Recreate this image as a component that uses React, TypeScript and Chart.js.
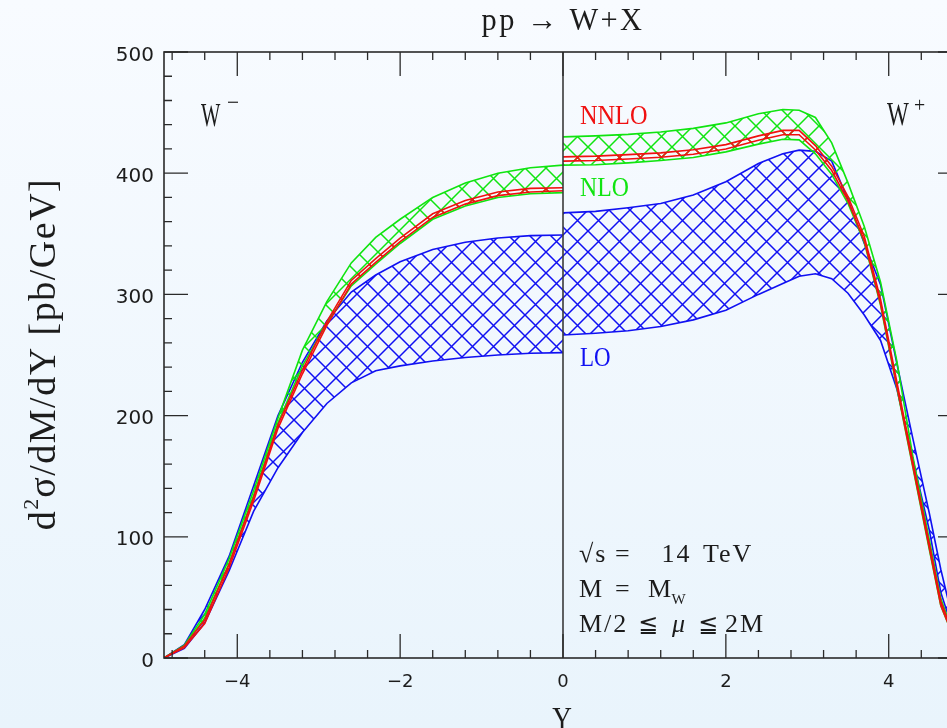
import React, { useEffect, useRef } from "react";
import { Chart, registerables } from "chart.js";

Chart.register(...registerables);

// ---- W- side (Y < 0) ----
const W_MINUS_Y = [-4.9, -4.65, -4.4, -4.1, -3.8, -3.5, -3.2, -2.9, -2.6, -2.3, -2.0, -1.6, -1.2, -0.8, -0.4, 0];
const LO_MINUS_LOW = [0, 8, 29, 72, 121, 157, 186, 210, 227, 237, 241, 245, 248, 250, 251.5, 252];
const LO_MINUS_HIGH = [0, 11, 40, 84, 142, 200, 244, 278, 302, 316, 327, 337, 343, 346.5, 348.5, 349];
const NLO_MINUS_LOW = [0, 9.8, 33, 78, 134, 194, 241, 276, 307, 325, 342, 362, 373, 380, 383, 384];
const NLO_MINUS_HIGH = [0, 10.5, 36, 82, 138, 198, 254, 294, 326, 347, 362, 380, 392, 400, 404.5, 406.7];
const NNLO_MINUS_LOW = [0, 8.5, 28.5, 74.5, 129.5, 189.5, 234.5, 274.5, 308.5, 326.5, 343.5, 363.5, 374.5, 381.5, 384.5, 385.5];
const NNLO_MINUS_HIGH = [0, 10, 31.5, 77.5, 132.5, 192.5, 237.5, 277.5, 311.5, 329.5, 346.5, 366.5, 377.5, 384.5, 387.5, 388];

// ---- W+ side (Y > 0) ----
const W_PLUS_Y = [0, 0.4, 0.8, 1.2, 1.6, 2.0, 2.4, 2.7, 2.9, 3.1, 3.3, 3.5, 3.7, 3.9, 4.1, 4.3, 4.5, 4.64, 4.9];
const LO_PLUS_LOW = [266.5, 268, 270, 273.5, 279, 287, 300, 309, 315, 317, 313, 301, 283, 262, 222, 163, 105, 54, 0];
const LO_PLUS_HIGH = [367.3, 368.5, 371.5, 375, 382, 393, 408, 416, 419, 418, 410, 378, 342, 308, 243, 180, 119, 73, 0];
const NLO_PLUS_LOW = [406.7, 407, 408.5, 410.5, 413, 417.6, 424, 428, 427.5, 416, 399, 375, 343, 291, 223, 156, 89, 43, 0];
const NLO_PLUS_HIGH = [430, 430.8, 432, 434, 437, 441.5, 449, 452.5, 452, 446, 425, 392, 356, 310, 245, 165, 97, 49, 0];
const NNLO_PLUS_LOW = [410, 410.5, 411.7, 413.2, 415.7, 420, 427.2, 431.7, 431.7, 419.2, 402.2, 377.2, 344.2, 292.2, 224.2, 157.2, 90.2, 43.2, 0];
const NNLO_PLUS_HIGH = [413.5, 414.1, 415.3, 416.8, 419.3, 423.6, 430.8, 435.3, 435.3, 422.8, 405.8, 380.8, 347.8, 295.8, 227.8, 160.8, 93.8, 46.8, 0];

// ---- axes ----
const X_MIN = -4.9;
const X_MAX = 4.9;
const Y_MIN = 0;
const Y_MAX = 500;
const X_MAJOR_TICKS = [-4, -2, 0, 2, 4];
const X_MINOR_STEP = 0.4;
const Y_MAJOR_TICKS = [0, 100, 200, 300, 400, 500];
const Y_MINOR_STEP = 20;

const TITLE = "pp \u2192 W+X";
const X_TITLE = "Y";
const BAND_LABELS = ["NNLO", "NLO", "LO"];

const BLUE = "#1010f2";
const GREEN = "#10e410";
const RED = "#f01010";
const INK = "#1c1c1c";
const SERIF = "'Liberation Serif', 'DejaVu Serif', serif";
const SANS = "'DejaVu Sans', sans-serif";

function makeHatch(color: string, size = 21, lw = 1.5): CanvasPattern | string {
  const c = document.createElement("canvas");
  c.width = size;
  c.height = size;
  const g = c.getContext("2d");
  if (!g) return color;
  g.strokeStyle = color;
  g.lineWidth = lw;
  g.beginPath();
  for (const k of [-size, 0, size]) {
    g.moveTo(-2, -2 + k);
    g.lineTo(size + 2, size + 2 + k);
  }
  for (const k of [-size, 0, size]) {
    g.moveTo(size + 2, -2 + k);
    g.lineTo(-2, size + 2 + k);
  }
  g.stroke();
  const p = g.createPattern(c, "repeat");
  return p || color;
}

type Run = { t: string; size: number; dy?: number; style?: string; ls?: number; family?: string };

function drawRuns(
  ctx: CanvasRenderingContext2D,
  runs: Run[],
  x: number,
  y: number,
  opts: { color: string; align?: "left" | "center" | "right"; hs?: number; rotate?: number; family?: string }
) {
  const fam = opts.family || SERIF;
  ctx.save();
  ctx.translate(x, y);
  if (opts.rotate) ctx.rotate(opts.rotate);
  ctx.scale(opts.hs ?? 1, 1);
  ctx.fillStyle = opts.color;
  ctx.textAlign = "left";
  ctx.textBaseline = "alphabetic";
  const widths: number[] = [];
  let total = 0;
  for (const r of runs) {
    ctx.font = `${r.style || ""} ${r.size}px ${r.family || fam}`;
    (ctx as any).letterSpacing = `${r.ls || 0}px`;
    const w = ctx.measureText(r.t).width;
    widths.push(w);
    total += w;
  }
  let cx = opts.align === "center" ? -total / 2 : opts.align === "right" ? -total : 0;
  runs.forEach((r, i) => {
    ctx.font = `${r.style || ""} ${r.size}px ${r.family || fam}`;
    (ctx as any).letterSpacing = `${r.ls || 0}px`;
    ctx.fillText(r.t, cx, r.dy || 0);
    cx += widths[i];
  });
  ctx.restore();
}

const fmtTick = (v: number) => (v < 0 ? "\u2212" + Math.abs(v) : String(v));

const framePlugin = {
  id: "framePlugin",
  afterDatasetsDraw(chart: any) {
    const { ctx, chartArea: a, scales } = chart;
    const xs = scales.x;
    const ys = scales.y;
    ctx.save();
    // zero line
    const x0 = xs.getPixelForValue(0);
    ctx.strokeStyle = "#3a3a3a";
    ctx.lineWidth = 1.6;
    ctx.beginPath();
    ctx.moveTo(x0, a.top);
    ctx.lineTo(x0, a.bottom);
    ctx.stroke();

    // frame
    ctx.strokeStyle = "#2a2a2a";
    ctx.lineWidth = 1.6;
    ctx.strokeRect(a.left, a.top, a.right - a.left, a.bottom - a.top);

    // ticks
    ctx.lineWidth = 1.3;
    ctx.beginPath();
    const major = 24;
    const minor = 8;
    for (let v = Y_MIN; v <= Y_MAX + 1e-6; v += Y_MINOR_STEP) {
      const py = ys.getPixelForValue(v);
      const len = Y_MAJOR_TICKS.includes(Math.round(v)) ? major : minor;
      ctx.moveTo(a.left, py);
      ctx.lineTo(a.left + len, py);
      ctx.moveTo(a.right, py);
      ctx.lineTo(a.right - len, py);
    }
    const nMin = Math.ceil(X_MIN / X_MINOR_STEP - 1e-6);
    const nMax = Math.floor(X_MAX / X_MINOR_STEP + 1e-6);
    for (let n = nMin; n <= nMax; n++) {
      const v = Math.round(n * X_MINOR_STEP * 10) / 10;
      const px = xs.getPixelForValue(v);
      const len = X_MAJOR_TICKS.includes(v) ? major : minor;
      ctx.moveTo(px, a.bottom);
      ctx.lineTo(px, a.bottom - len);
      ctx.moveTo(px, a.top);
      ctx.lineTo(px, a.top + len);
    }
    ctx.stroke();

    // tick labels
    ctx.fillStyle = INK;
    ctx.font = `20px ${SANS}`;
    ctx.textAlign = "right";
    ctx.textBaseline = "alphabetic";
    for (const v of Y_MAJOR_TICKS) {
      ctx.fillText(String(v), a.left - 10, ys.getPixelForValue(v) + 8.5);
    }
    ctx.font = `18px ${SANS}`;
    ctx.textAlign = "center";
    for (const v of X_MAJOR_TICKS) {
      ctx.fillText(fmtTick(v), xs.getPixelForValue(v), a.bottom + 29);
    }
    ctx.restore();

    // texts
    // title
    drawRuns(ctx, [{ t: TITLE, size: 32, ls: 2.5 }], xs.getPixelForValue(0), 30, { color: INK, align: "center", hs: 0.95 });
    // x title
    drawRuns(ctx, [{ t: X_TITLE, size: 34 }], xs.getPixelForValue(0) - 1, 730, { color: INK, align: "center", hs: 0.8 });
    // y title
    drawRuns(
      ctx,
      [
        { t: "d", size: 38, ls: 1.5 },
        { t: "2", size: 22, dy: -17, ls: 1 },
        { t: "\u03c3/dM/dY [pb/GeV]", size: 38, ls: 1.5 },
      ],
      55,
      354,
      { color: INK, align: "center", rotate: -Math.PI / 2 }
    );
    // W- / W+
    drawRuns(ctx, [{ t: "W", size: 33 }], 201, 126, { color: INK, hs: 0.62 });
    drawRuns(ctx, [{ t: "\u2212", size: 24 }], 227, 110, { color: INK, hs: 0.9 });
    drawRuns(ctx, [{ t: "W", size: 33 }], 887, 125, { color: INK, hs: 0.7 });
    drawRuns(ctx, [{ t: "+", size: 22 }], 914, 112, { color: INK, hs: 0.9 });
    // band labels
    drawRuns(ctx, [{ t: BAND_LABELS[0], size: 27 }], 580, 123.5, { color: RED, hs: 0.9 });
    drawRuns(ctx, [{ t: BAND_LABELS[1], size: 27 }], 580, 196, { color: GREEN, hs: 0.88 });
    drawRuns(ctx, [{ t: BAND_LABELS[2], size: 27 }], 580, 366, { color: BLUE, hs: 0.85 });

    // conditions block
    const f = 26;
    const L = 2;
    const t = (s: string, x: number, y: number, extra: Partial<Run> = {}) =>
      drawRuns(ctx, [{ t: s, size: f, ls: L, ...extra }], x, y, { color: INK });
    t("\u221As", 579, 561.7);
    t("=", 615, 561.7, { ls: 0 });
    t("14", 661.5, 561.7);
    t("TeV", 703, 561.7);
    t("M", 579, 596.7);
    t("=", 615, 596.7, { ls: 0 });
    t("M", 648, 596.7);
    t("W", 671.5, 604, { size: 15, ls: 0 });
    t("M/2", 579, 631.7);
    t("\u2266", 638, 632, { ls: 0, family: "'DejaVu Sans', sans-serif", size: 24 });
    t("\u03bc", 672, 631.7, { style: "italic", ls: 0 });
    t("\u2266", 698, 632, { ls: 0, family: "'DejaVu Sans', sans-serif", size: 24 });
    t("2M", 725, 631.7);
  },
};

function pts(xs: number[], ys: number[]) {
  return xs.map((x, i) => ({ x, y: ys[i] }));
}

export default function App() {
  const ref = useRef<HTMLCanvasElement | null>(null);
  useEffect(() => {
    const canvas = ref.current;
    if (!canvas) return;
    const hatchBlue = makeHatch(BLUE);
    const hatchGreen = makeHatch(GREEN);
    const hatchRed = makeHatch(RED);

    const bands = [
      { x: W_MINUS_Y, lo: LO_MINUS_LOW, hi: LO_MINUS_HIGH, color: BLUE, pat: hatchBlue, order: 3 },
      { x: W_PLUS_Y, lo: LO_PLUS_LOW, hi: LO_PLUS_HIGH, color: BLUE, pat: hatchBlue, order: 3 },
      { x: W_MINUS_Y, lo: NLO_MINUS_LOW, hi: NLO_MINUS_HIGH, color: GREEN, pat: hatchGreen, order: 2 },
      { x: W_PLUS_Y, lo: NLO_PLUS_LOW, hi: NLO_PLUS_HIGH, color: GREEN, pat: hatchGreen, order: 2 },
      { x: W_MINUS_Y, lo: NNLO_MINUS_LOW, hi: NNLO_MINUS_HIGH, color: RED, pat: hatchRed, order: 1 },
      { x: W_PLUS_Y, lo: NNLO_PLUS_LOW, hi: NNLO_PLUS_HIGH, color: RED, pat: hatchRed, order: 1 },
    ];
    const datasets: any[] = [];
    bands.forEach((b) => {
      const loIdx = datasets.length;
      datasets.push({
        data: pts(b.x, b.lo),
        borderColor: b.color,
        borderWidth: 1.6,
        pointRadius: 0,
        fill: false,
        tension: 0,
        order: b.order,
      });
      datasets.push({
        data: pts(b.x, b.hi),
        borderColor: b.color,
        borderWidth: 1.6,
        pointRadius: 0,
        fill: { target: loIdx },
        backgroundColor: b.pat,
        tension: 0,
        order: b.order,
      });
    });

    const chart = new Chart(canvas, {
      type: "line",
      data: { datasets },
      options: {
        responsive: false,
        animation: false,
        devicePixelRatio: 1,
        layout: { padding: { top: 52, right: 38, left: 0, bottom: 0 } },
        plugins: { legend: { display: false }, tooltip: { enabled: false }, title: { display: false } },
        scales: {
          x: {
            type: "linear",
            min: X_MIN,
            max: X_MAX,
            grid: { display: false, drawTicks: false },
            border: { display: false },
            ticks: { display: false },
            afterFit: (s: any) => {
              s.height = 70;
            },
          },
          y: {
            type: "linear",
            min: Y_MIN,
            max: Y_MAX,
            grid: { display: false, drawTicks: false },
            border: { display: false },
            ticks: { display: false },
            afterFit: (s: any) => {
              s.width = 164;
            },
          },
        },
      } as any,
      plugins: [framePlugin],
    });
    return () => chart.destroy();
  }, []);

  return (
    <div
      style={{
        position: "fixed",
        left: 0,
        top: 0,
        width: 947,
        height: 728,
        overflow: "hidden",
        background: "linear-gradient(180deg, #f8fbff 0%, #e9f4fc 100%)",
      }}
    >
      <canvas ref={ref} width={1000} height={728} style={{ display: "block" }} />
    </div>
  );
}
